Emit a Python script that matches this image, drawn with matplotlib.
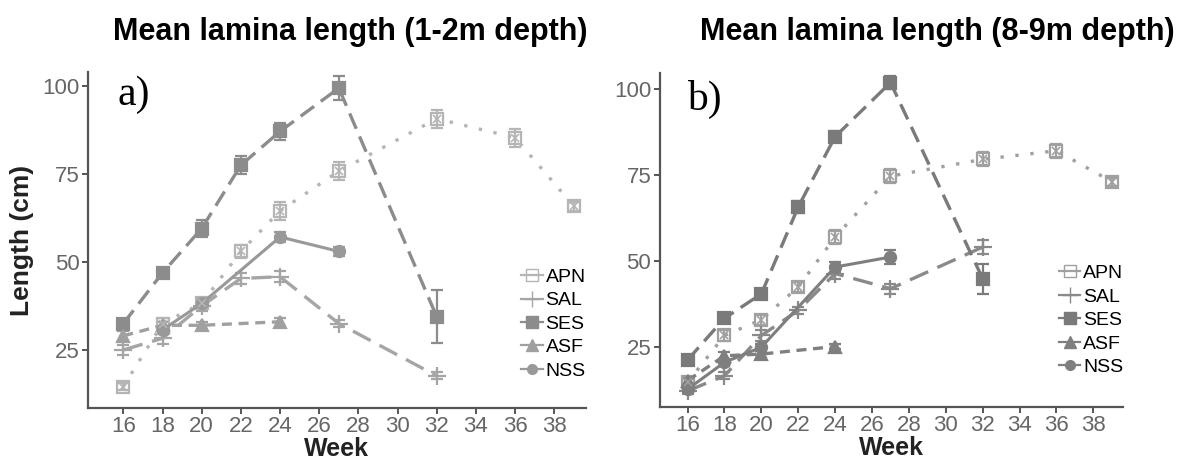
import numpy as np
import matplotlib
matplotlib.use('Agg')
import matplotlib.pyplot as plt
from matplotlib.lines import Line2D

plt.rcParams['font.family'] = ['Liberation Sans', 'DejaVu Sans']

# ---- data ----
species = ['APN', 'SAL', 'SES', 'ASF', 'NSS']

# panel a (1-2m)
a_weeks = {
    'APN': [16, 18, 20, 22, 24, 27, 32, 36, 39],
    'SAL': [16, 18, 20, 22, 24, 27, 32],
    'SES': [16, 18, 20, 22, 24, 27, 32],
    'ASF': [16, 18, 20, 24],
    'NSS': [18, 20, 24, 27],
}
a_vals = {
    'APN': [14.6, 32.5, 38.2, 53.0, 64.5, 75.8, 90.7, 85.3, 65.8],
    'SAL': [25.0, 28.3, 37.5, 45.3, 45.8, 32.5, 17.6],
    'SES': [32.5, 46.9, 59.5, 77.5, 87.1, 99.4, 34.4],
    'ASF': [29.0, 32.0, 32.0, 33.0],
    'NSS': [30.7, 38.2, 57.1, 53.0],
}
a_err = {
    'APN': [1.0, 1.5, 1.5, 1.8, 2.5, 2.5, 2.5, 2.5, 1.2],
    'SAL': [1.5, 1.5, 1.5, 1.5, 1.5, 1.0, 1.0],
    'SES': [1.2, 1.5, 2.5, 2.5, 2.5, 3.5, 7.5],
    'ASF': [1.5, 1.0, 1.0, 1.2],
    'NSS': [1.2, 1.5, 1.5, 1.2],
}

# panel b (8-9m)
b_weeks = {
    'APN': [16, 18, 20, 22, 24, 27, 32, 36, 39],
    'SAL': [16, 18, 20, 22, 24, 27, 32],
    'SES': [16, 18, 20, 22, 24, 27, 32],
    'ASF': [16, 18, 20, 24],
    'NSS': [16, 18, 20, 24, 27],
}
b_vals = {
    'APN': [14.8, 28.4, 33.0, 42.5, 57.0, 74.7, 79.6, 82.1, 73.1],
    'SAL': [12.3, 16.7, 28.4, 35.7, 46.4, 42.0, 54.1],
    'SES': [21.3, 33.4, 40.5, 65.8, 86.2, 101.9, 44.9],
    'ASF': [15.3, 22.5, 23.0, 25.2],
    'NSS': [12.8, 20.6, 25.0, 48.3, 51.2],
}
b_err = {
    'APN': [1.0, 1.5, 1.5, 1.5, 2.0, 2.0, 2.0, 2.0, 1.2],
    'SAL': [1.0, 1.0, 1.5, 1.0, 1.5, 1.5, 2.0],
    'SES': [1.0, 1.0, 1.5, 1.8, 1.5, 2.0, 4.3],
    'ASF': [1.0, 1.0, 1.0, 0.8],
    'NSS': [1.0, 1.0, 1.0, 1.5, 2.0],
}

styles = {
    'APN': dict(ls=(0, (1, 3.5)), lw=2.4, marker='s', ms=9, hollow=True),
    'SAL': dict(ls=(0, (6, 3)), lw=2.4, marker='+', ms=13, hollow=True),
    'SES': dict(ls=(0, (5, 2.5)), lw=2.4, marker='s', ms=9, hollow=False),
    'ASF': dict(ls=(0, (3, 2)), lw=2.4, marker='^', ms=9, hollow=False),
    'NSS': dict(ls='-', lw=2.2, marker='o', ms=8, hollow=False),
}


def draw(ax, weeks, vals, errs, cols, xlim, ylim, leg_anchor):
    for sp in species:
        st = styles[sp]
        c = cols[sp]
        ax.errorbar(weeks[sp], vals[sp], yerr=errs[sp], color=c, ecolor=c,
                    elinewidth=1.6, capsize=4, capthick=1.6,
                    linestyle=st['ls'], linewidth=st['lw'], marker=st['marker'],
                    markersize=st['ms'], markerfacecolor='none' if st['hollow'] else c,
                    markeredgecolor=c, markeredgewidth=1.6, zorder=3)
        if sp == 'APN':
            ax.plot(weeks[sp], vals[sp], linestyle='none', marker='x', markersize=6,
                    color=c, markeredgewidth=1.2, zorder=4)
    ax.set_xlim(*xlim)
    ax.set_ylim(*ylim)
    ax.set_xticks([16, 18, 20, 22, 24, 26, 28, 30, 32, 34, 36, 38])
    ax.set_yticks([25, 50, 75, 100])
    for s in ['top', 'right']:
        ax.spines[s].set_visible(False)
    for s in ['left', 'bottom']:
        ax.spines[s].set_color('#555555')
        ax.spines[s].set_linewidth(1.6)
    ax.tick_params(colors='#555555', labelcolor='#666666', labelsize=16, width=1.4,
                   length=4, pad=2)
    ax.set_xlabel('Week', fontsize=18, fontweight='bold', color='#222222', labelpad=0)

    handles = []
    for sp in species:
        st = styles[sp]
        c = cols[sp]
        handles.append(Line2D([0], [0], color=c, lw=1.6, marker=st['marker'],
                              markersize=st['ms'] - 1,
                              markerfacecolor='none' if st['hollow'] else c,
                              markeredgecolor=c))
    ax.legend(handles, species, loc='center left', bbox_to_anchor=leg_anchor,
              frameon=False, fontsize=14, handlelength=1.1, handletextpad=0.15,
              labelspacing=0.3, borderaxespad=0)


cols_a = {'APN': '#b5b5b5', 'SAL': '#a5a5a5', 'SES': '#8c8c8c', 'ASF': '#a0a0a0', 'NSS': '#999999'}
cols_b = {'APN': '#a0a0a0', 'SAL': '#8a8a8a', 'SES': '#7a7a7a', 'ASF': '#7f7f7f', 'NSS': '#7f7f7f'}

fig = plt.figure(figsize=(11.82, 4.61), dpi=100)
ax1 = fig.add_axes([0.0745, 0.115, 0.421, 0.729])
ax2 = fig.add_axes([0.558, 0.117, 0.392, 0.724])

draw(ax1, a_weeks, a_vals, a_err, cols_a, (14.2, 39.6), (8.5, 104), (0.855, 0.25))
draw(ax2, b_weeks, b_vals, b_err, cols_b, (14.48, 39.6), (7.6, 104.6), (0.845, 0.26))

ax1.set_ylabel('Length (cm)', fontsize=19, fontweight='bold', color='#222222', labelpad=6)

fig.text(0.296, 0.93, 'Mean lamina length (1-2m depth)', fontsize=22, fontweight='bold',
         ha='center', va='center')
fig.text(0.793, 0.93, 'Mean lamina length (8-9m depth)', fontsize=22, fontweight='bold',
         ha='center', va='center')

ax1.text(0.06, 0.99, 'a)', transform=ax1.transAxes, fontsize=30,
         family='Liberation Serif', va='top')
ax2.text(0.06, 0.98, 'b)', transform=ax2.transAxes, fontsize=30,
         family='Liberation Serif', va='top')

fig.savefig('out.png', dpi=100)
